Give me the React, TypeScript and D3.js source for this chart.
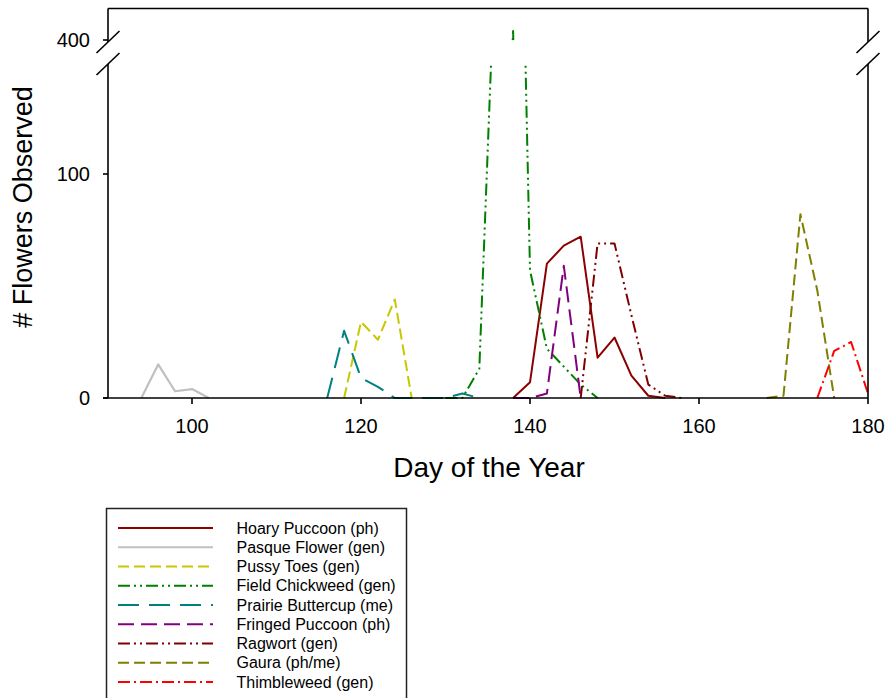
import React from 'react';
import * as d3 from 'd3';

const W = 889;
const H = 698;

// Day of year and number of flowers observed, per species
const hoaryDays = [138, 140, 142, 144, 146, 148, 150, 152, 154, 156];
const hoaryCounts = [0, 7, 60, 68, 72, 18, 27, 10, 1, 0];
const pasqueDays = [94, 96, 98, 100, 102];
const pasqueCounts = [0, 15, 3, 4, 0];
const pussyDays = [118, 120, 122, 124, 126];
const pussyCounts = [0, 34, 26, 44, 0];
const chickweedDays = [130, 132, 134, 136, 138, 140, 142, 144, 146, 148];
const chickweedCounts = [0, 0, 13, 209, 404, 57, 22, 14, 6, 0];
const buttercupDays = [116, 118, 120, 122, 124, 126, 128, 130, 132, 134];
const buttercupCounts = [0, 30, 9, 5, 0, 0, 0, 0, 2, 0];
const fringedDays = [138, 140, 142, 144, 146];
const fringedCounts = [0, 0, 2, 59, 0];
const ragwortDays = [146, 148, 150, 152, 154, 156, 158];
const ragwortCounts = [0, 69, 69, 37, 6, 1, 0];
const gauraDays = [168, 170, 172, 174, 176];
const gauraCounts = [0, 1, 82, 48, 0];
const thimbleDays = [174, 176, 178, 180];
const thimbleCounts = [0, 21, 25, 2];

const xTicks = [100, 120, 140, 160, 180];
const yTicksLower = [0, 100];
const yTicksUpper = [400];

type Series = { name: string; days: number[]; counts: number[]; color: string; dash: string; width: number };

const series: Series[] = [
  { name: 'Hoary Puccoon (ph)', days: hoaryDays, counts: hoaryCounts, color: '#8b0000', dash: '', width: 2 },
  { name: 'Pasque Flower (gen)', days: pasqueDays, counts: pasqueCounts, color: '#c0c0c0', dash: '', width: 2.2 },
  { name: 'Pussy Toes (gen)', days: pussyDays, counts: pussyCounts, color: '#c8c800', dash: '11,5', width: 2 },
  { name: 'Field Chickweed (gen)', days: chickweedDays, counts: chickweedCounts, color: '#008000', dash: '12,4,2,4,2,4', width: 2 },
  { name: 'Prairie Buttercup (me)', days: buttercupDays, counts: buttercupCounts, color: '#008080', dash: '21,10', width: 2 },
  { name: 'Fringed Puccoon (ph)', days: fringedDays, counts: fringedCounts, color: '#800080', dash: '16,7', width: 2 },
  { name: 'Ragwort (gen)', days: ragwortDays, counts: ragwortCounts, color: '#800000', dash: '12,4,2,4,2,4', width: 2 },
  { name: 'Gaura (ph/me)', days: gauraDays, counts: gauraCounts, color: '#808000', dash: '11,5', width: 2 },
  { name: 'Thimbleweed (gen)', days: thimbleDays, counts: thimbleCounts, color: '#ff0000', dash: '12,4,2,4', width: 2 },
];

const FONT = 'Arial, "Liberation Sans", sans-serif';

export default function App() {
  const left = 108;
  const right = 868;
  const top = 8.5;
  const bottom = 398;

  const x = d3.scaleLinear().domain([90, 180]).range([107.5, right]);
  // broken y axis: lower segment 0-150, upper segment around 400
  const yLow = d3.scaleLinear().domain([0, 150]).range([bottom, 62]);
  const yHigh = d3.scaleLinear().domain([400, 414]).range([40, 8.64]);
  const breakTop = 42; // bottom end of the upper axis segment
  const breakBottom = 64; // top end of the lower axis segment

  const makeLine = (ys: d3.ScaleLinear<number, number>) =>
    d3
      .line<[number, number]>()
      .x((d) => x(d[0]))
      .y((d) => ys(d[1]));
  const lineLow = makeLine(yLow);
  const lineHigh = makeLine(yHigh);

  const slash = (cx: number, cy: number) => (
    <line x1={cx - 11.5} y1={cy + 11} x2={cx + 11.5} y2={cy - 11} stroke="#000" strokeWidth={1.6} />
  );

  const legendX = 106.5;
  const legendY = 508.5;
  const rowH = 19.25;

  return (
    <svg width={W} height={H} style={{ position: 'absolute', left: 0, top: 0, background: '#fff' }} fontFamily={FONT}>
      <defs>
        <clipPath id="clipLower">
          <rect x={left - 3} y={yLow(150)} width={right - left + 6} height={bottom + 3 - yLow(150)} />
        </clipPath>
        <clipPath id="clipUpper">
          <rect x={left - 3} y={top} width={right - left + 6} height={breakTop - top + 0.3} />
        </clipPath>
      </defs>

      {/* data lines, drawn once per axis segment */}
      <g clipPath="url(#clipLower)">
        {series.map((s) => (
          <path
            key={s.name}
            d={lineLow(s.days.map((d, i) => [d, s.counts[i]] as [number, number])) || ''}
            fill="none"
            stroke={s.color}
            strokeWidth={s.width}
            strokeDasharray={s.dash || undefined}
            strokeLinejoin="round"
          />
        ))}
      </g>
      <g clipPath="url(#clipUpper)">
        {series.map((s) => (
          <path
            key={s.name}
            d={lineHigh(s.days.map((d, i) => [d, s.counts[i]] as [number, number])) || ''}
            fill="none"
            stroke={s.color}
            strokeWidth={s.width}
            strokeDasharray={s.dash || undefined}
            strokeLinejoin="round"
          />
        ))}
      </g>

      {/* frame */}
      <g stroke="#000" strokeWidth={1.6} fill="none">
        <line x1={left} y1={top} x2={right} y2={top} />
        <line x1={left} y1={top} x2={left} y2={breakTop} />
        <line x1={left} y1={breakBottom} x2={left} y2={bottom} />
        <line x1={right} y1={top} x2={right} y2={breakTop} />
        <line x1={right} y1={breakBottom} x2={right} y2={bottom} />
        <line x1={left - 5} y1={bottom} x2={right} y2={bottom} />
      </g>
      {slash(left, breakTop)}
      {slash(left, breakBottom)}
      {slash(right, breakTop)}
      {slash(right, breakBottom)}

      {/* x axis ticks */}
      {xTicks.map((t) => (
        <g key={t}>
          <line x1={x(t)} y1={bottom} x2={x(t)} y2={bottom + 6} stroke="#000" strokeWidth={1.6} />
          <text x={x(t)} y={433} fontSize={20} textAnchor="middle" fill="#000">
            {t}
          </text>
        </g>
      ))}

      {/* y axis ticks */}
      {yTicksLower.map((t) => (
        <g key={t}>
          <line x1={left - 5} y1={yLow(t)} x2={left} y2={yLow(t)} stroke="#000" strokeWidth={1.6} />
          <text x={90} y={yLow(t) + 7} fontSize={20} textAnchor="end" fill="#000">
            {t}
          </text>
        </g>
      ))}
      {yTicksUpper.map((t) => (
        <g key={t}>
          <line x1={left - 5} y1={yHigh(t)} x2={left} y2={yHigh(t)} stroke="#000" strokeWidth={1.6} />
          <text x={90} y={yHigh(t) + 7} fontSize={20} textAnchor="end" fill="#000">
            {t}
          </text>
        </g>
      ))}

      {/* axis titles */}
      <text x={489} y={477} fontSize={28} textAnchor="middle" fill="#000">
        Day of the Year
      </text>
      <text transform="translate(32,207) rotate(-90)" fontSize={27} textAnchor="middle" fill="#000">
        # Flowers Observed
      </text>

      {/* legend */}
      <rect x={legendX} y={legendY} width={300} height={220} fill="#fff" stroke="#222" strokeWidth={1.5} />
      {series.map((s, i) => {
        const cy = legendY + 19.5 + i * rowH;
        return (
          <g key={s.name}>
            <line
              x1={118}
              y1={cy}
              x2={213}
              y2={cy}
              stroke={s.color}
              strokeWidth={s.width}
              strokeDasharray={s.dash || undefined}
            />
            <text x={236.5} y={cy + 5.7} fontSize={16} fill="#000">
              {s.name}
            </text>
          </g>
        );
      })}
    </svg>
  );
}
